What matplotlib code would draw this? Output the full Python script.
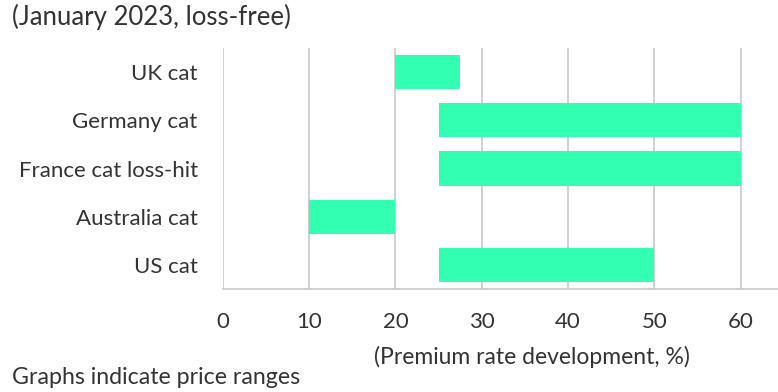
import matplotlib
matplotlib.use("Agg")
import matplotlib.pyplot as plt

# ── data ──────────────────────────────────────────────────────────────────────
categories = ["UK cat", "Germany cat", "France cat loss-hit", "Australia cat", "US cat"]
range_low  = [20, 25, 25, 10, 25]
range_high = [27.5, 60, 60, 20, 50]
x_ticks    = [0, 10, 20, 30, 40, 50, 60]

C_BAR  = "#33ffb2"
C_GRID = "#c8c8c8"
C_TEXT = "#333333"

plt.rcParams["font.family"] = ["Lato", "DejaVu Sans"]

fig = plt.figure(figsize=(7.78, 3.92), dpi=100)
ax = fig.add_axes([0.2862, 0.262, 0.7138, 0.6158])

widths = [h - l for l, h in zip(range_low, range_high)]
ax.barh(range(len(categories)), widths, left=range_low, height=0.71,
        color=C_BAR, zorder=3)

ax.set_ylim(len(categories) - 0.5, -0.5)
ax.set_xlim(0, 64.3)
ax.set_xticks(x_ticks)
ax.set_yticks(range(len(categories)))
ax.set_yticklabels(categories)

ax.grid(axis="x", color=C_GRID, linewidth=1.2, zorder=0)
for s in ["top", "right", "left"]:
    ax.spines[s].set_visible(False)
ax.spines["bottom"].set_color(C_GRID)
ax.spines["bottom"].set_linewidth(1.2)

ax.tick_params(axis="both", length=0, labelsize=16, labelcolor=C_TEXT)
ax.tick_params(axis="x", pad=16)
ax.tick_params(axis="y", pad=18)

# label sits right of the axes centre in the original
ax.set_xlabel("(Premium rate development, %)", fontsize=16.5, color=C_TEXT,
              labelpad=10, x=0.557)

fig.text(0.015, 0.957, "(January 2023, loss-free)", fontsize=18.5,
         color=C_TEXT, ha="left", va="center")
fig.text(0.016, 0.038, "Graphs indicate price ranges", fontsize=16.7,
         color=C_TEXT, ha="left", va="center")

fig.savefig("out.png", dpi=100, facecolor="white")
